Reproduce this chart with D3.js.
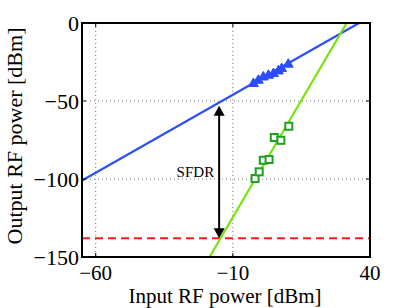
<!DOCTYPE html>
<html>
<head>
<meta charset="utf-8">
<script src="https://cdn.jsdelivr.net/npm/d3@7"></script>
<style>
html,body{margin:0;padding:0;background:#fff;}
text{font-family:"Liberation Serif","Times New Roman",serif;fill:#000;}
</style>
</head>
<body>
<svg id="chart" width="409" height="308"></svg>
<script>
// ---- data ----
const xTicks = [-60, -10, 40];
const yTicks = [-150, -100, -50, 0];
const xGrid = [-60, -10];
const yGrid = [-100, -50];
// fitted fundamental line (slope 1)
const fundLineX = [-65, 36];
const fundLineY = [-101, 0];
// fitted third-order IMD line (slope 3)
const imdLineX = [-18.5, 31.5];
const imdLineY = [-150, 0];
// measured fundamental (triangles)
const fundX = [-2.5, -0.7, 1.1, 3.0, 4.8, 6.6, 7.8, 10.2];
const fundY = [-38.9, -36.8, -34.7, -33.6, -32.5, -30.8, -29.3, -26.5];
// measured IMD3 (squares)
const imdX = [-1.9, -0.4, 1.1, 3.2, 5.1, 7.5, 10.4];
const imdY = [-99.7, -95.4, -88.0, -87.5, -73.4, -75.2, -66.2];
// noise floor
const noiseFloor = -138;
// SFDR arrow (x, from, to)
const sfdrX = -15;
const sfdrTop = -53;
const sfdrBottom = -138;

// ---- layout ----
const svg = d3.select("#chart");
const L = 82, T = 23, R = 370, B = 257;
const x = d3.scaleLinear().domain([-65, 40]).range([L, R]);
const y = d3.scaleLinear().domain([-150, 0]).range([B, T]);

svg.append("defs").append("clipPath").attr("id","clip")
  .append("rect").attr("x",L).attr("y",T).attr("width",R-L).attr("height",B-T);

// grid
const g = svg.append("g");
g.selectAll(".gx").data(xGrid).join("line")
  .attr("x1",d=>x(d)).attr("x2",d=>x(d)).attr("y1",T).attr("y2",B)
  .attr("stroke","#777").attr("stroke-width",1).attr("stroke-dasharray","1,3");
g.selectAll(".gy").data(yGrid).join("line")
  .attr("y1",d=>y(d)).attr("y2",d=>y(d)).attr("x1",L).attr("x2",R)
  .attr("stroke","#777").attr("stroke-width",1).attr("stroke-dasharray","1,3");

const plot = svg.append("g").attr("clip-path","url(#clip)");

// noise floor
plot.append("line")
  .attr("x1",x(-65)).attr("x2",x(40)).attr("y1",y(noiseFloor)).attr("y2",y(noiseFloor))
  .attr("stroke","#ff1a1a").attr("stroke-width",2).attr("stroke-dasharray","8,5");

const line = d3.line().x(d=>x(d[0])).y(d=>y(d[1]));
plot.append("path").datum(d3.zip(fundLineX, fundLineY)).attr("d",line)
  .attr("fill","none").attr("stroke","#2b4cff").attr("stroke-width",2.2);
plot.append("path").datum(d3.zip(imdLineX, imdLineY)).attr("d",line)
  .attr("fill","none").attr("stroke","#77e40a").attr("stroke-width",2.2);

// markers
const tri = d3.symbol().type(d3.symbolTriangle).size(42);
plot.selectAll(".tri").data(d3.zip(fundX, fundY)).join("path")
  .attr("d",tri).attr("transform",d=>`translate(${x(d[0])},${y(d[1])})`)
  .attr("fill","#2b4cff").attr("stroke","#2b4cff").attr("stroke-width",1);
plot.selectAll(".sq").data(d3.zip(imdX, imdY)).join("rect")
  .attr("x",d=>x(d[0])-3.5).attr("y",d=>y(d[1])-3.5).attr("width",7).attr("height",7)
  .attr("fill","#fff").attr("stroke","#1fa01f").attr("stroke-width",2);

// SFDR arrow
const ax = x(sfdrX), ay1 = y(sfdrTop), ay2 = y(sfdrBottom);
const hl = 10, hw = 5.5;
svg.append("line").attr("x1",ax).attr("x2",ax).attr("y1",ay1+hl-1).attr("y2",ay2-hl+1)
  .attr("stroke","#000").attr("stroke-width",2);
svg.append("path").attr("d",`M${ax},${ay1} L${ax-hw},${ay1+hl} L${ax+hw},${ay1+hl} Z`).attr("fill","#000");
svg.append("path").attr("d",`M${ax},${ay2} L${ax-hw},${ay2-hl} L${ax+hw},${ay2-hl} Z`).attr("fill","#000");
svg.append("text").attr("x",ax-5).attr("y",177).attr("text-anchor","end")
  .style("font-size","15px").text("SFDR");

// frame
svg.append("rect").attr("x",L).attr("y",T).attr("width",R-L).attr("height",B-T)
  .attr("fill","none").attr("stroke","#000").attr("stroke-width",2);

// ticks (inside)
const tk = 4;
svg.selectAll(".tx").data(xTicks).join("g").each(function(d){
  const s = d3.select(this);
  s.append("line").attr("x1",x(d)).attr("x2",x(d)).attr("y1",B).attr("y2",B-tk).attr("stroke","#000");
  s.append("line").attr("x1",x(d)).attr("x2",x(d)).attr("y1",T).attr("y2",T+tk).attr("stroke","#000");
});
svg.selectAll(".ty").data(yTicks).join("g").each(function(d){
  const s = d3.select(this);
  s.append("line").attr("x1",L).attr("x2",L+tk).attr("y1",y(d)).attr("y2",y(d)).attr("stroke","#000");
  s.append("line").attr("x1",R).attr("x2",R-tk).attr("y1",y(d)).attr("y2",y(d)).attr("stroke","#000");
});

const fmt = d => (d < 0 ? "\u2212" + Math.abs(d) : String(d));
svg.selectAll(".xl").data(xTicks).join("text")
  .attr("x",d=>x(d)).attr("y",280).attr("text-anchor","middle")
  .style("font-size","21px").text(fmt);
svg.selectAll(".yl").data(yTicks).join("text")
  .attr("x",79).attr("y",d=>y(d)+7.5).attr("text-anchor","end")
  .style("font-size","22px").text(fmt);

// axis labels
svg.append("text").attr("x",225).attr("y",303).attr("text-anchor","middle")
  .style("font-size","21px").text("Input RF power [dBm]");
svg.append("text").attr("transform","translate(22,136) rotate(-90)").attr("text-anchor","middle")
  .style("font-size","22px").text("Output RF power [dBm]");
</script>
</body>
</html>
